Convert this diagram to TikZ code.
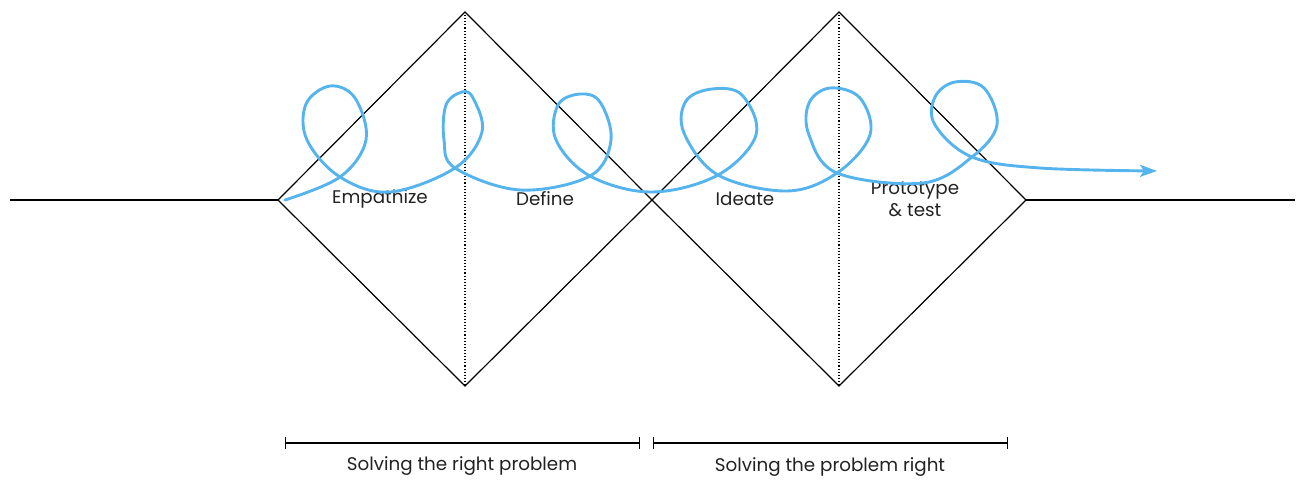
\documentclass[tikz,border=0pt]{standalone}
\usepackage{fontspec}
\setmainfont{Poppins}
\usetikzlibrary{arrows.meta}
\definecolor{loopblue}{HTML}{55B4EE}
\definecolor{txt}{HTML}{222222}
\begin{document}
\begin{tikzpicture}[x=1pt,y=-1pt,
  edge/.style={line width=1.2pt,black},
  dots/.style={line width=1.1pt,dotted,black},
  lbl/.style={font=\fontsize{18.3}{22}\selectfont,text=txt,inner sep=0pt,align=center},
  bracket/.style={line width=1.2pt,black,{Bar[width=12pt]}-{Bar[width=12pt]}},
  loopline/.style={line width=2.9pt,loopblue,line cap=round,line join=round}]
\useasboundingbox (0,0) rectangle (1303,481);
% diamond vertices
\coordinate (L1) at (278,200);
\coordinate (T1) at (465,12);
\coordinate (M) at (652,200);
\coordinate (B1) at (465,386);
\coordinate (T2) at (839,12);
\coordinate (R2) at (1026,200);
\coordinate (B2) at (839,386);
\coordinate (W) at (10,200);
\coordinate (E) at (1295,200);
\draw[edge] (L1) -- (T1) -- (M) -- (T2) -- (R2) -- (B2) -- (M) -- (B1) -- cycle;
\draw[edge] (W) -- (L1);
\draw[edge] (R2) -- (E);
\draw[dots] (T1) -- (B1);
\draw[dots] (T2) -- (B2);
% labels
\node[lbl] (emp) at (380,199) {Empathize};
\node[lbl] (def) at (545,199) {Define};
\node[lbl] (ide) at (745,199) {Ideate};
\node[lbl] (pro) at (915,199) {Prototype\\\& test};
% brackets
\coordinate (a1) at (285,443);
\coordinate (a2) at (640,443);
\coordinate (b1) at (653,443);
\coordinate (b2) at (1008,443);
\draw[bracket] (a1) -- (a2);
\draw[bracket] (b1) -- (b2);
\node[lbl] (srp) at (462,466) {Solving the right problem};
\node[lbl] (spr) at (830,467) {Solving the problem right};
% loopy curve
\draw[loopline,-{Stealth[length=17pt,width=12pt,inset=4pt]}] plot[smooth,tension=0.6] coordinates {
(285,200) (340,177) (366,140) (355,98) (330,86) (306,104)
(307,140) (340,177) (390,192) (455,168) 
(482,132) (473,98) (462,92) (446,105) (444,140) (455,168)
(520,190) (590,176) (611,140) (600,102) (580,94)
(558,105) (556,140) (590,176) (652,192) (718,175)
(756,135) (742,95) (712,89) (686,101) (684,133) (718,175)
(787,191) (837,173) (870,135) (860,98) (830,88)
(809,103) (809,135) (837,173) (923,183)
(972,157) (997,125) (984,88) (955,82) (935,97) (935,125)
(972,157) (1040,168) (1157,171)};
\end{tikzpicture}
\end{document}
